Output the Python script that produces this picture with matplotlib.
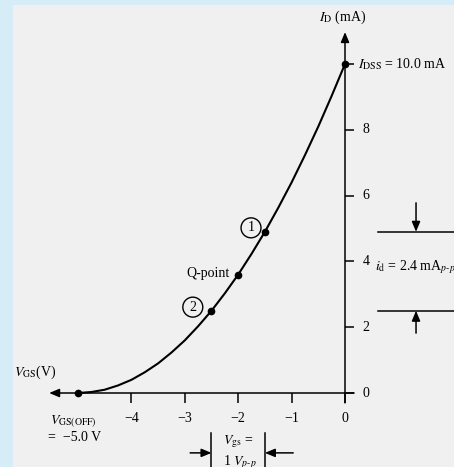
import matplotlib
matplotlib.use("Agg")
import matplotlib.pyplot as plt

# ── Transfer characteristic ──────────────────────────────────────────────────
vgs_curve = [-5.0, -4.75, -4.5, -4.25, -4.0, -3.75, -3.5, -3.25, -3.0, -2.75, -2.5,
             -2.25, -2.0, -1.75, -1.5, -1.25, -1.0, -0.75, -0.5, -0.25, 0.0]
id_curve = [0.0, 0.03, 0.1, 0.23, 0.4, 0.63, 0.9, 1.23, 1.6, 2.03, 2.5,
            3.03, 3.6, 4.23, 4.9, 5.63, 6.4, 7.23, 8.1, 9.03, 10.0]

# marked points: V_GS(OFF), point 2, Q-point, point 1, I_DSS
pt_vgs = [-5.0, -2.5, -2.0, -1.5, 0.0]
pt_id = [0.0, 2.5, 3.6, 4.9, 10.0]

x_ticks = [-4, -3, -2, -1, 0]
x_ticklabels = ["\u22124", "\u22123", "\u22122", "\u22121", "0"]
y_ticks = [0, 2, 4, 6, 8, 10]
y_ticklabels = ["0", "2", "4", "6", "8"]

id_swing = (2.5, 4.9)     # mA, from point 2 to point 1
vgs_swing = (-2.5, -1.5)  # V, 1 V p-p around Q

plt.rcParams["font.family"] = "Liberation Serif"
plt.rcParams["mathtext.fontset"] = "stix"
FS = 10

fig = plt.figure(figsize=(4.54, 4.67), dpi=100, facecolor="#d6ecf7")
ax = fig.add_axes([13 / 454, 0, 441 / 454, 462 / 467], facecolor="#f0f0f0")
ax.set_xlim(-6.217, 2.041)
ax.set_ylim(-2.249, 11.793)
for s in ax.spines.values():
    s.set_visible(False)
ax.set_xticks([])
ax.set_yticks([])

lw_axis = 1.1
arrow_kw = dict(arrowstyle="-|>,head_length=0.6,head_width=0.25",
                color="black", lw=lw_axis, shrinkA=0, shrinkB=0)

# axes with arrow heads
ax.annotate("", xy=(-5.54, 0), xytext=(0.17, 0), arrowprops=arrow_kw)
ax.annotate("", xy=(0, 10.97), xytext=(0, -0.3), arrowprops=arrow_kw)

# ticks
for x in x_ticks:
    ax.plot([x, x], [0, -0.3], color="black", lw=lw_axis, solid_capstyle="butt")
for y in y_ticks:
    ax.plot([0, 0.17], [y, y], color="black", lw=lw_axis, solid_capstyle="butt")
for x, lab in zip(x_ticks, x_ticklabels):
    ax.text(x, -0.76, lab, ha="center", va="center", fontsize=FS)
for y, lab in zip(y_ticks, y_ticklabels):
    ax.text(0.33, y, lab, ha="left", va="center", fontsize=FS)

# curve and points
ax.plot(vgs_curve, id_curve, color="black", lw=1.5)
ax.plot(pt_vgs, pt_id, "o", color="black", ms=4.5)

# axis titles and annotations
ax.text(-0.04, 11.43, r"$I_{\mathrm{D}}$ (mA)", ha="center", va="center", fontsize=FS)
ax.text(0.24, 10.0, r"$I_{\mathrm{DSS}}$ = 10.0 mA", ha="left", va="center", fontsize=FS)
ax.text(-6.2, 0.64, r"$V_{\mathrm{GS}}$(V)", ha="left", va="center", fontsize=FS)
ax.text(-5.52, -0.88, r"$V_{\mathrm{GS(OFF)}}$", ha="left", va="center", fontsize=FS)
ax.text(-5.56, -1.34, "=  \u22125.0 V", ha="left", va="center", fontsize=FS)
ax.text(-2.57, 3.62, "Q-point", ha="center", va="center", fontsize=FS)

circ = dict(boxstyle="circle,pad=0.25", fc="none", ec="black", lw=1.0)
ax.text(-1.76, 5.02, "1", ha="center", va="center", fontsize=FS, bbox=circ)
ax.text(-2.85, 2.61, "2", ha="center", va="center", fontsize=FS, bbox=circ)

# drain current swing on the right
for y in id_swing:
    ax.plot([0.62, 2.1], [y, y], color="black", lw=lw_axis, clip_on=False)
ax.annotate("", xy=(1.33, id_swing[1]), xytext=(1.33, 5.78), arrowprops=arrow_kw)
ax.annotate("", xy=(1.33, id_swing[0]), xytext=(1.33, 1.82), arrowprops=arrow_kw)
ax.text(0.56, 3.83, r"$i_{\mathrm{d}}$ = 2.4 mA$_{p\text{-}p}$",
        ha="left", va="center", fontsize=FS)

# gate voltage swing at the bottom
for x in vgs_swing:
    ax.plot([x, x], [-1.22, -2.4], color="black", lw=lw_axis)
ax.annotate("", xy=(vgs_swing[0], -1.82), xytext=(-2.9, -1.82), arrowprops=arrow_kw)
ax.annotate("", xy=(vgs_swing[1], -1.82), xytext=(-0.97, -1.82), arrowprops=arrow_kw)
ax.text(-2.28, -1.49, r"$V_{\mathrm{gs}}$ =", ha="left", va="center", fontsize=FS)
ax.text(-2.28, -2.1, r"1 $V_{p\text{-}p}$", ha="left", va="center", fontsize=FS)

fig.savefig("out.png", dpi=100, facecolor=fig.get_facecolor())
